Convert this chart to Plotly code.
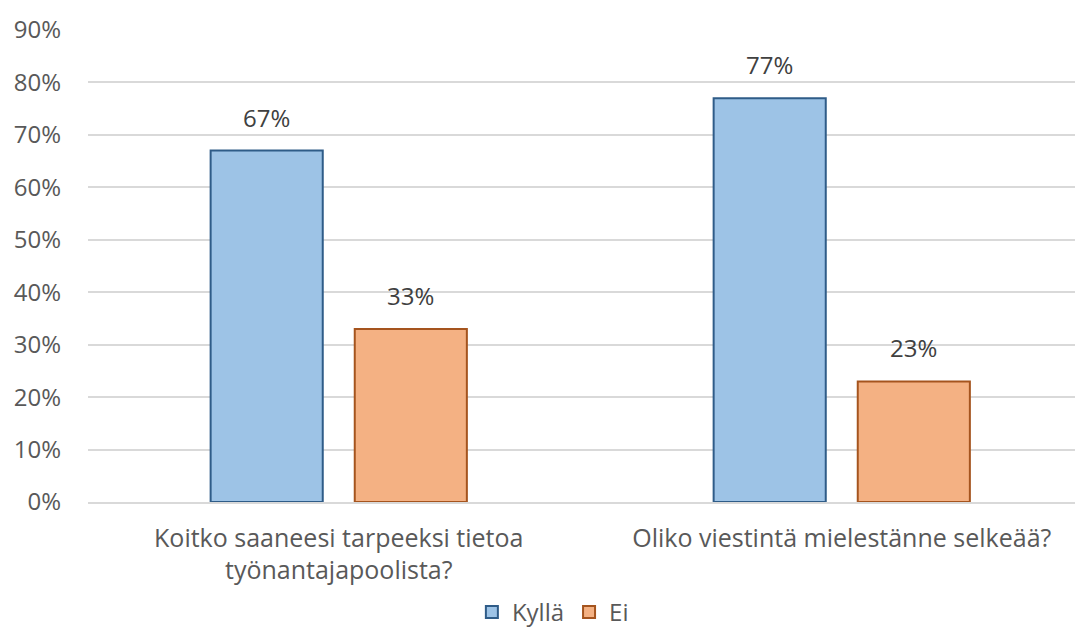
import plotly.graph_objects as go

# data
categories = ["Koitko saaneesi tarpeeksi tietoa<br>työnantajapoolista?",
              "Oliko viestintä mielestänne selkeää?"]
kylla = [0.67, 0.77]
ei = [0.33, 0.23]
tick_vals = [0, 0.1, 0.2, 0.3, 0.4, 0.5, 0.6, 0.7, 0.8, 0.9]

FONT = "Open Sans, sans-serif"
TXT = "#404040"
GREY = "#595959"

fig = go.Figure()
fig.add_trace(go.Bar(name="Kyllä", x=categories, y=kylla,
                     marker=dict(color="#9DC3E6", line=dict(color="#2F5C88", width=2))))
fig.add_trace(go.Bar(name="Ei", x=categories, y=ei,
                     marker=dict(color="#F4B183", line=dict(color="#A5541E", width=2))))

# data labels above bars
for i, cat in enumerate(categories):
    for v, shift in ((kylla[i], -72), (ei[i], 72)):
        fig.add_annotation(x=i, y=v, xref="x", yref="y", text=f"{v:.0%}",
                           showarrow=False, xshift=shift, yshift=15, yanchor="bottom",
                           font=dict(family=FONT, size=24, color=TXT))

fig.update_layout(
    width=1083, height=628,
    margin=dict(l=88, r=8, t=30, b=126, autoexpand=False),
    plot_bgcolor="white", paper_bgcolor="white",
    barmode="group", bargap=0.427, bargroupgap=0.222,
    font=dict(family=FONT, size=24, color=GREY),
    showlegend=True,
    legend=dict(orientation="h", x=0.471, xanchor="center", y=-0.234, yanchor="middle",
                font=dict(size=24, color=GREY), itemwidth=30, tracegroupgap=0),
    yaxis=dict(range=[0, 0.9], tickvals=tick_vals, tickformat=".0%",
               gridcolor="#D9D9D9", gridwidth=1.5, zeroline=False,
               showline=False, ticklabelstandoff=26, automargin=False,
               tickfont=dict(size=24, color=GREY)),
    xaxis=dict(range=[-0.4985, 1.4637], showline=True, linecolor="#D9D9D9",
               linewidth=1.5, automargin=False,
               tickfont=dict(size=25, color=GREY), ticklabelstandoff=13),
)

# drop the default 8px body margin so the figure fills the window
fig.write_html("out.html", config={"displayModeBar": False},
               post_script="document.body.style.margin='0';")
